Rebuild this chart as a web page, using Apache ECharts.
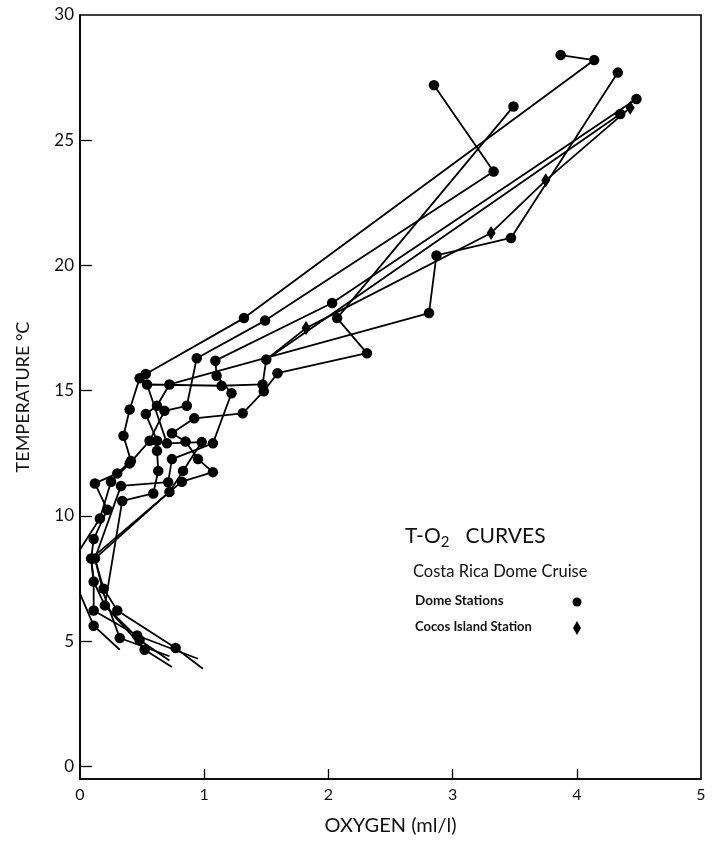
<!DOCTYPE html>
<html>
<head>
<meta charset="utf-8">
<script src="https://cdn.jsdelivr.net/npm/echarts@6/dist/echarts.min.js"></script>
<style>
html,body{margin:0;padding:0;background:#fff;}
#chart{width:715px;height:841px;}
</style>
</head>
<body>
<div id="chart"></div>
<script>
// Oxygen (ml/l), Temperature (°C) pairs; a third element marks a point drawn without a symbol
const dome1 = [[3.87,28.4],[4.14,28.2],[1.32,17.9],[0.53,15.67],[0.48,15.5],[0.40,14.25],[0.35,13.2],[0.41,12.2],[0.30,11.7],[0.12,11.3],[0.22,10.25],[0.11,9.08],[0.09,8.3],[0.11,7.38],[0.11,6.23],[0.46,5.23],[0.95,4.3,0]];
const dome2 = [[2.85,27.2],[3.33,23.75],[1.49,17.8],[0.94,16.3],[0.86,14.4],[0.68,14.2],[0.56,13.0],[0.40,12.1],[0.25,11.37],[0.16,9.9],[0.0,8.66,0],[0.0,6.9,0],[0.11,5.62],[0.32,4.66,0]];
const dome3 = [[3.49,26.35],[2.07,17.9],[2.31,16.5],[1.59,15.7],[1.48,14.98],[1.31,14.1],[0.92,13.9],[0.74,13.3],[0.85,12.97],[0.95,12.27],[1.07,11.75],[0.82,11.37],[0.72,10.96],[0.12,8.3],[0.19,7.1],[0.30,6.23],[0.77,4.73],[0.99,3.9,0]];
const dome4 = [[4.33,27.7],[3.47,21.1],[2.87,20.4],[2.81,18.1],[0.72,15.25],[0.62,14.4],[0.53,14.07],[0.62,13.0],[0.62,12.6],[0.63,11.8],[0.59,10.9],[0.34,10.6],[0.20,6.43],[0.48,5.05],[0.72,4.23,0]];
const dome5 = [[4.48,26.65],[2.03,18.5],[1.09,16.2],[1.10,15.6],[1.22,14.9],[1.07,12.9],[0.74,12.27],[0.71,11.35],[0.33,11.2],[0.12,8.3,0],[0.19,6.9,0],[0.32,5.13],[0.72,4.4,0]];
const dome6 = [[4.35,26.05],[1.50,16.25],[1.47,15.25],[1.14,15.2],[0.54,15.25],[0.70,12.9],[0.98,12.95],[0.83,11.8],[0.72,10.96,0],[0.09,8.3,0],[0.11,7.38,0],[0.20,6.43,0],[0.52,4.66],[0.74,3.97,0]];
const cocos = [[4.43,26.3],[3.75,23.4],[3.31,21.3],[1.82,17.5],[1.50,16.25,0]];

const xLabels = [0,1,2,3,4,5];
const xTicks = [1,2,3,4];
const yLabels = [0,5,10,15,20,25,30];
const yTicks = [0,5,10,15,20,25];

const FONT = 'Lato';
function toData(arr){
  return arr.map(p => p.length > 2 ? {value:[p[0],p[1]], symbol:'none'} : {value:[p[0],p[1]]});
}
function lineSeries(arr, sym, size){
  return {
    type:'line', data: toData(arr), symbol: sym, symbolSize: size, showSymbol:true,
    lineStyle:{color:'#000', width:1.8}, itemStyle:{color:'#000'}, animation:false, z:3
  };
}
const chart = echarts.init(document.getElementById('chart'));
chart.setOption({
  backgroundColor:'#fff',
  animation:false,
  grid:{left:80, right:14, top:15, bottom:60, show:true, borderColor:'#000', borderWidth:1.6, backgroundColor:'transparent'},
  xAxis:{
    type:'value', min:0, max:5, interval:1,
    name:'OXYGEN (ml/l)', nameLocation:'middle', nameGap:37,
    nameTextStyle:{fontFamily:FONT, fontSize:20, color:'#111'},
    axisLine:{show:true, onZero:false, lineStyle:{color:'#000', width:1.6}},
    axisTick:{show:true, inside:true, length:10, customValues:xTicks, lineStyle:{color:'#000', width:1.3}},
    axisLabel:{fontFamily:FONT, fontSize:16, color:'#111', margin:8, customValues:xLabels},
    splitLine:{show:false}
  },
  yAxis:{
    type:'value', min:-0.5, max:30,
    name:'TEMPERATURE °C', nameLocation:'middle', nameGap:48, nameRotate:90,
    nameTextStyle:{fontFamily:FONT, fontSize:18, color:'#111'},
    axisLine:{show:true, onZero:false, lineStyle:{color:'#000', width:1.6}},
    axisTick:{show:true, inside:true, length:12, customValues:yTicks, lineStyle:{color:'#000', width:1.3}},
    axisLabel:{fontFamily:FONT, fontSize:17, color:'#111', margin:6, customValues:yLabels},
    splitLine:{show:false}
  },
  series:[
    lineSeries(dome1,'circle',10.5),
    lineSeries(dome2,'circle',10.5),
    lineSeries(dome3,'circle',10.5),
    lineSeries(dome4,'circle',10.5),
    lineSeries(dome5,'circle',10.5),
    lineSeries(dome6,'circle',10.5),
    lineSeries(cocos,'diamond',[9,14])
  ],
  graphic:[
    {type:'text', left:405, top:526, style:{
      text:'{a|T-O}{s|2}{a|   CURVES}',
      rich:{a:{fontFamily:FONT, fontSize:21, fill:'#111'}, s:{fontFamily:FONT, fontSize:15, fill:'#111', padding:[12,0,0,0]}}
    }},
    {type:'text', left:413, top:563, style:{text:'Costa Rica Dome Cruise', fontFamily:FONT, fontSize:16.5, fill:'#111'}},
    {type:'text', left:415, top:594, style:{text:'Dome Stations', fontFamily:FONT, fontSize:13.5, fontWeight:'bold', fill:'#111'}},
    {type:'text', left:415, top:620, style:{text:'Cocos Island Station', fontFamily:FONT, fontSize:13, fontWeight:'bold', fill:'#111'}},
    {type:'circle', shape:{cx:577, cy:602, r:4.5}, style:{fill:'#000'}},
    {type:'polygon', shape:{points:[[577,621],[581,628],[577,635],[573,628]]}, style:{fill:'#000'}}
  ]
});
</script>
</body>
</html>
